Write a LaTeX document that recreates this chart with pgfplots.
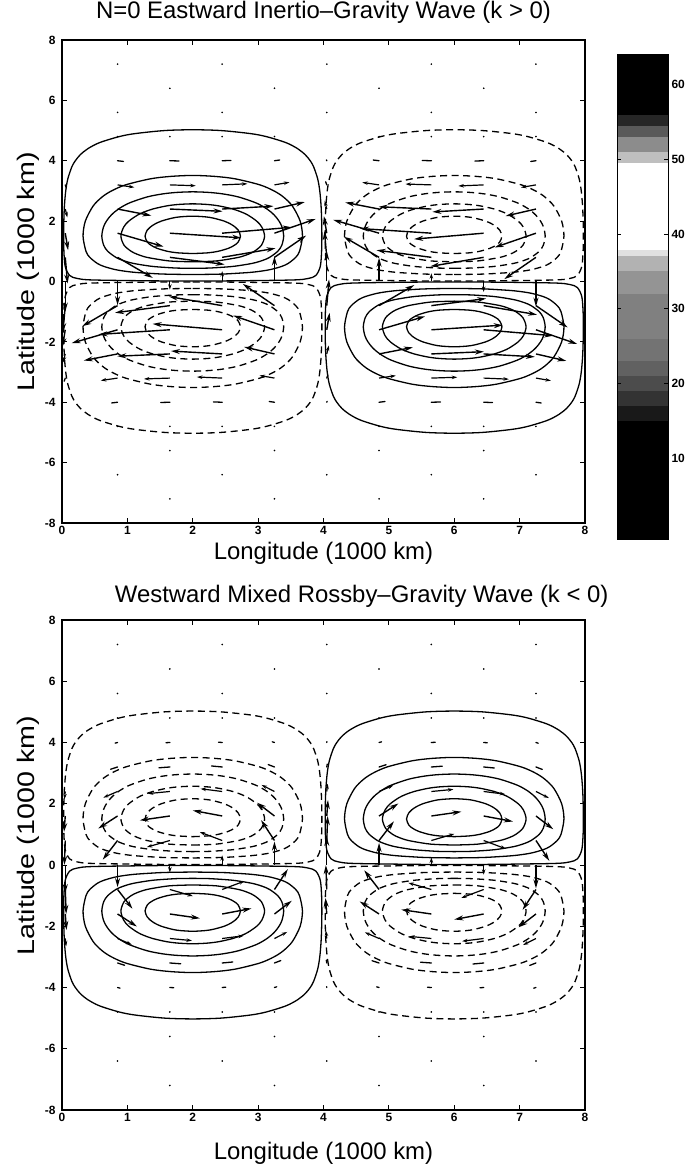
\documentclass[border=0pt]{standalone}
\usepackage{pgfplots}
\pgfplotsset{compat=1.18}
\usepackage{pgfplotstable}
\usetikzlibrary{arrows.meta}
\usepackage{fontspec}
\setmainfont{Liberation Sans}

% contour levels of the cell x in [0,4], y>0 ; xp = x+4 ; yn = -y
\pgfplotstableread{
x y xp yn
2.000 0.018 6.000 -0.018
2.547 0.020 6.547 -0.020
3.526 0.050 7.526 -0.050
3.767 0.100 7.767 -0.100
3.883 0.200 7.883 -0.200
3.951 0.500 7.951 -0.500
3.971 1.000 7.971 -1.000
3.975 1.500 7.975 -1.500
3.972 2.000 7.972 -2.000
3.963 2.500 7.963 -2.500
3.943 3.000 7.943 -3.000
3.911 3.400 7.911 -3.400
3.849 3.800 7.849 -3.800
3.797 4.000 7.797 -4.000
3.720 4.200 7.720 -4.200
3.604 4.400 7.604 -4.400
3.425 4.600 7.425 -4.600
3.124 4.800 7.124 -4.800
2.879 4.900 6.879 -4.900
2.429 5.000 6.429 -5.000
2.000 5.026 6.000 -5.026
1.571 5.000 5.571 -5.000
1.121 4.900 5.121 -4.900
0.876 4.800 4.876 -4.800
0.575 4.600 4.575 -4.600
0.396 4.400 4.396 -4.400
0.280 4.200 4.280 -4.200
0.204 4.000 4.204 -4.000
0.151 3.800 4.151 -3.800
0.089 3.400 4.089 -3.400
0.057 3.000 4.057 -3.000
0.037 2.500 4.037 -2.500
0.028 2.000 4.028 -2.000
0.026 1.500 4.026 -1.500
0.029 1.000 4.029 -1.000
0.049 0.500 4.049 -0.500
0.117 0.200 4.117 -0.200
0.233 0.100 4.233 -0.100
0.474 0.050 4.474 -0.050
1.453 0.020 5.453 -0.020
2.000 0.018 6.000 -0.018
}\cone

\pgfplotstableread{
x y xp yn
2.000 0.230 6.000 -0.230
2.361 0.240 6.361 -0.240
2.505 0.250 6.505 -0.250
2.872 0.300 6.872 -0.300
3.069 0.350 7.069 -0.350
3.198 0.400 7.198 -0.400
3.361 0.500 7.361 -0.500
3.461 0.600 7.461 -0.600
3.575 0.800 7.575 -0.800
3.633 1.000 7.633 -1.000
3.678 1.500 7.678 -1.500
3.643 2.000 7.643 -2.000
3.524 2.500 7.524 -2.500
3.386 2.800 7.386 -2.800
3.243 3.000 7.243 -3.000
3.028 3.200 7.028 -3.200
2.650 3.400 6.650 -3.400
2.343 3.480 6.343 -3.480
2.000 3.513 6.000 -3.513
1.657 3.480 5.657 -3.480
1.350 3.400 5.350 -3.400
0.972 3.200 4.972 -3.200
0.757 3.000 4.757 -3.000
0.614 2.800 4.614 -2.800
0.476 2.500 4.476 -2.500
0.357 2.000 4.357 -2.000
0.322 1.500 4.322 -1.500
0.367 1.000 4.367 -1.000
0.425 0.800 4.425 -0.800
0.539 0.600 4.539 -0.600
0.639 0.500 4.639 -0.500
0.802 0.400 4.802 -0.400
0.931 0.350 4.931 -0.350
1.128 0.300 5.128 -0.300
1.495 0.250 5.495 -0.250
1.639 0.240 5.639 -0.240
2.000 0.230 6.000 -0.230
}\ctwo

\pgfplotstableread{
x y xp yn
2.000 0.437 6.000 -0.437
2.152 0.440 6.152 -0.440
2.298 0.450 6.298 -0.450
2.617 0.500 6.617 -0.500
2.910 0.600 6.910 -0.600
3.071 0.700 7.071 -0.700
3.176 0.800 7.176 -0.800
3.300 1.000 7.300 -1.000
3.362 1.200 7.362 -1.200
3.391 1.500 7.391 -1.500
3.366 1.800 7.366 -1.800
3.320 2.000 7.320 -2.000
3.247 2.200 7.247 -2.200
3.137 2.400 7.137 -2.400
2.971 2.600 6.971 -2.600
2.699 2.800 6.699 -2.800
2.463 2.900 6.463 -2.900
2.249 2.950 6.249 -2.950
2.000 2.970 6.000 -2.970
1.751 2.950 5.751 -2.950
1.537 2.900 5.537 -2.900
1.301 2.800 5.301 -2.800
1.029 2.600 5.029 -2.600
0.863 2.400 4.863 -2.400
0.753 2.200 4.753 -2.200
0.680 2.000 4.680 -2.000
0.634 1.800 4.634 -1.800
0.609 1.500 4.609 -1.500
0.638 1.200 4.638 -1.200
0.700 1.000 4.700 -1.000
0.824 0.800 4.824 -0.800
0.929 0.700 4.929 -0.700
1.090 0.600 5.090 -0.600
1.383 0.500 5.383 -0.500
1.702 0.450 5.702 -0.450
1.848 0.440 5.848 -0.440
2.000 0.437 6.000 -0.437
}\cthree

\pgfplotstableread{
x y xp yn
2.000 0.651 6.000 -0.651
2.284 0.670 6.284 -0.670
2.434 0.700 6.434 -0.700
2.702 0.800 6.702 -0.800
2.847 0.900 6.847 -0.900
2.942 1.000 6.942 -1.000
3.050 1.200 7.050 -1.200
3.099 1.500 7.099 -1.500
3.057 1.800 7.057 -1.800
2.978 2.000 6.978 -2.000
2.844 2.200 6.844 -2.200
2.746 2.300 6.746 -2.300
2.613 2.400 6.613 -2.400
2.409 2.500 6.409 -2.500
2.230 2.550 6.230 -2.550
2.000 2.572 6.000 -2.572
1.770 2.550 5.770 -2.550
1.591 2.500 5.591 -2.500
1.387 2.400 5.387 -2.400
1.254 2.300 5.254 -2.300
1.156 2.200 5.156 -2.200
1.022 2.000 5.022 -2.000
0.943 1.800 4.943 -1.800
0.901 1.500 4.901 -1.500
0.950 1.200 4.950 -1.200
1.058 1.000 5.058 -1.000
1.153 0.900 5.153 -0.900
1.298 0.800 5.298 -0.800
1.566 0.700 5.566 -0.700
1.716 0.670 5.716 -0.670
2.000 0.651 6.000 -0.651
}\cfour

\pgfplotstableread{
x y xp yn
2.000 0.925 6.000 -0.925
2.234 0.950 6.234 -0.950
2.388 1.000 6.388 -1.000
2.547 1.100 6.547 -1.100
2.637 1.200 6.637 -1.200
2.693 1.300 6.693 -1.300
2.730 1.500 6.730 -1.500
2.696 1.700 6.696 -1.700
2.650 1.800 6.650 -1.800
2.582 1.900 6.582 -1.900
2.481 2.000 6.481 -2.000
2.314 2.100 6.314 -2.100
2.198 2.140 6.198 -2.140
2.000 2.164 6.000 -2.164
1.802 2.140 5.802 -2.140
1.686 2.100 5.686 -2.100
1.519 2.000 5.519 -2.000
1.418 1.900 5.418 -1.900
1.350 1.800 5.350 -1.800
1.304 1.700 5.304 -1.700
1.270 1.500 5.270 -1.500
1.307 1.300 5.307 -1.300
1.363 1.200 5.363 -1.200
1.453 1.100 5.453 -1.100
1.612 1.000 5.612 -1.000
1.766 0.950 5.766 -0.950
2.000 0.925 6.000 -0.925
}\cfive

% ---------- top panel velocity vectors ----------
\pgfplotstableread{
x y u v
0.05 0 0 -0.999
0.85 0 0 -0.785
3.25 0 0 0.832
4.05 0 0 0.999
4.85 0 0 0.785
7.25 0 0 -0.832
0.05 0.8 0.035 -0.867
0.85 0.8 0.539 -0.681
1.65 0.8 0.838 -0.235
2.45 0.8 0.816 0.300
3.25 0.8 0.484 0.721
4.05 0.8 -0.035 0.867
4.85 0.8 -0.539 0.681
5.65 0.8 -0.838 0.235
6.45 0.8 -0.816 -0.300
7.25 0.8 -0.484 -0.721
0.05 -0.8 -0.035 -0.867
0.85 -0.8 -0.539 -0.681
1.65 -0.8 -0.838 -0.235
2.45 -0.8 -0.816 0.300
3.25 -0.8 -0.484 0.721
4.05 -0.8 0.035 0.867
4.85 -0.8 0.539 0.681
5.65 -0.8 0.838 0.235
6.45 -0.8 0.816 -0.300
7.25 -0.8 0.484 -0.721
0.05 1.6 0.044 -0.565
0.85 1.6 0.703 -0.444
1.65 1.6 1.092 -0.154
2.45 1.6 1.064 0.196
3.25 1.6 0.631 0.471
4.05 1.6 -0.044 0.565
4.85 1.6 -0.703 0.444
5.65 1.6 -1.092 0.154
6.45 1.6 -1.064 -0.196
7.25 1.6 -0.631 -0.471
0.05 -1.6 -0.044 -0.565
0.85 -1.6 -0.703 -0.444
1.65 -1.6 -1.092 -0.154
2.45 -1.6 -1.064 0.196
3.25 -1.6 -0.631 0.471
4.05 -1.6 0.044 0.565
4.85 -1.6 0.703 0.444
5.65 -1.6 1.092 0.154
6.45 -1.6 1.064 -0.196
7.25 -1.6 0.631 -0.471
0.85 2.4 0.517 -0.218
1.65 2.4 0.805 -0.075
2.45 2.4 0.784 0.096
3.25 2.4 0.464 0.231
4.85 2.4 -0.517 0.218
5.65 2.4 -0.805 0.075
6.45 2.4 -0.784 -0.096
7.25 2.4 -0.464 -0.231
0.85 -2.4 -0.517 -0.218
1.65 -2.4 -0.805 -0.075
2.45 -2.4 -0.784 0.096
3.25 -2.4 -0.464 0.231
4.85 -2.4 0.517 0.218
5.65 -2.4 0.805 0.075
6.45 -2.4 0.784 -0.096
7.25 -2.4 0.464 -0.231
}\qtB

\pgfplotstableread{
x y u v
1.65 0 0 -0.271
2.45 0 0 0.346
5.65 0 0 0.271
6.45 0 0 -0.346
0.05 2.4 0.032 -0.278
4.05 2.4 -0.032 0.278
0.05 -2.4 -0.032 -0.278
4.05 -2.4 0.032 0.278
0.85 3.2 0.256 -0.081
1.65 3.2 0.396 -0.028
2.45 3.2 0.386 0.036
3.25 3.2 0.229 0.086
4.85 3.2 -0.256 0.081
5.65 3.2 -0.396 0.028
6.45 3.2 -0.386 -0.036
7.25 3.2 -0.229 -0.086
0.85 -3.2 -0.256 -0.081
1.65 -3.2 -0.396 -0.028
2.45 -3.2 -0.386 0.036
3.25 -3.2 -0.229 0.086
4.85 -3.2 0.256 0.081
5.65 -3.2 0.396 0.028
6.45 -3.2 0.386 -0.036
7.25 -3.2 0.229 -0.086
}\qtM

\pgfplotstableread{
x y u v
0.05 3.2 0.017 -0.103
4.05 3.2 -0.017 0.103
0.05 -3.2 -0.017 -0.103
4.05 -3.2 0.017 0.103
0.85 4 0.089 -0.023
1.65 4 0.138 -0.008
2.45 4 0.134 0.010
3.25 4 0.079 0.024
4.05 4 -0.006 0.029
4.85 4 -0.089 0.023
5.65 4 -0.138 0.008
6.45 4 -0.134 -0.010
7.25 4 -0.079 -0.024
0.85 -4 -0.089 -0.023
1.65 -4 -0.138 -0.008
2.45 -4 -0.134 0.010
3.25 -4 -0.079 0.024
4.05 -4 0.006 0.029
4.85 -4 0.089 0.023
5.65 -4 0.138 0.008
6.45 -4 0.134 -0.010
7.25 -4 0.079 -0.024
}\qtS

% ---------- bottom panel velocity vectors ----------
\pgfplotstableread{
x y u v
0.05 0 0 -0.919
0.85 0 0 -0.722
3.25 0 0 0.765
4.05 0 0 0.919
4.85 0 0 0.722
7.25 0 0 -0.765
0.05 0.8 -0.014 -0.797
0.85 0.8 -0.227 -0.627
3.25 0.8 -0.204 0.664
4.05 0.8 0.014 0.797
4.85 0.8 0.227 0.627
7.25 0.8 0.204 -0.664
0.05 -0.8 0.014 -0.797
0.85 -0.8 0.227 -0.627
3.25 -0.8 0.204 0.664
4.05 -0.8 -0.014 0.797
4.85 -0.8 -0.227 0.627
7.25 -0.8 -0.204 -0.664
0.05 1.6 -0.019 -0.520
0.85 1.6 -0.296 -0.409
3.25 1.6 -0.265 0.433
4.05 1.6 0.019 0.520
4.85 1.6 0.296 0.409
7.25 1.6 0.265 -0.433
0.05 -1.6 0.019 -0.520
0.85 -1.6 0.296 -0.409
3.25 -1.6 0.265 0.433
4.05 -1.6 -0.019 0.520
4.85 -1.6 -0.296 0.409
7.25 -1.6 -0.265 -0.433
1.65 1.6 -0.460 -0.141
2.45 1.6 -0.449 0.180
5.65 1.6 0.460 0.141
6.45 1.6 0.449 -0.180
1.65 -1.6 0.460 -0.141
2.45 -1.6 0.449 0.180
5.65 -1.6 -0.460 0.141
6.45 -1.6 -0.449 -0.180
}\qbB

\pgfplotstableread{
x y u v
1.65 0 0 -0.249
2.45 0 0 0.318
5.65 0 0 0.249
6.45 0 0 -0.318
1.65 0.8 -0.353 -0.217
2.45 0.8 -0.343 0.276
5.65 0.8 0.353 0.217
6.45 0.8 0.343 -0.276
1.65 -0.8 0.353 -0.217
2.45 -0.8 0.343 0.276
5.65 -0.8 -0.353 0.217
6.45 -0.8 -0.343 -0.276
0.05 2.4 -0.014 -0.256
0.85 2.4 -0.218 -0.201
1.65 2.4 -0.338 -0.069
2.45 2.4 -0.330 0.089
3.25 2.4 -0.196 0.213
4.05 2.4 0.014 0.256
4.85 2.4 0.218 0.201
5.65 2.4 0.338 0.069
6.45 2.4 0.330 -0.089
7.25 2.4 0.196 -0.213
0.05 -2.4 0.014 -0.256
0.85 -2.4 0.218 -0.201
1.65 -2.4 0.338 -0.069
2.45 -2.4 0.330 0.089
3.25 -2.4 0.196 0.213
4.05 -2.4 -0.014 0.256
4.85 -2.4 -0.218 0.201
5.65 -2.4 -0.338 0.069
6.45 -2.4 -0.330 -0.089
7.25 -2.4 -0.196 -0.213
}\qbM

\pgfplotstableread{
x y u v
0.85 3.2 -0.107 -0.074
1.65 3.2 -0.167 -0.026
2.45 3.2 -0.163 0.033
3.25 3.2 -0.096 0.079
4.05 3.2 0.007 0.094
4.85 3.2 0.107 0.074
5.65 3.2 0.167 0.026
6.45 3.2 0.163 -0.033
7.25 3.2 0.096 -0.079
0.85 -3.2 0.107 -0.074
1.65 -3.2 0.167 -0.026
2.45 -3.2 0.163 0.033
3.25 -3.2 0.096 0.079
4.05 -3.2 -0.007 0.094
4.85 -3.2 -0.107 0.074
5.65 -3.2 -0.167 0.026
6.45 -3.2 -0.163 -0.033
7.25 -3.2 -0.096 -0.079
0.85 4 -0.037 -0.021
1.65 4 -0.058 -0.007
2.45 4 -0.056 0.009
3.25 4 -0.034 0.022
4.05 4 0.002 0.026
4.85 4 0.037 0.021
5.65 4 0.058 0.007
6.45 4 0.056 -0.009
7.25 4 0.034 -0.022
0.85 -4 0.037 -0.021
1.65 -4 0.058 -0.007
2.45 -4 0.056 0.009
3.25 -4 0.034 0.022
4.05 -4 -0.002 0.026
4.85 -4 -0.037 0.021
5.65 -4 -0.058 0.007
6.45 -4 -0.056 -0.009
7.25 -4 -0.034 -0.022
}\qbS

% far-field grid points (vanishing vectors)
\pgfplotstableread{
x y
0.85 4.8
1.65 4.8
2.45 4.8
3.25 4.8
4.85 4.8
5.65 4.8
6.45 4.8
7.25 4.8
0.85 5.6
2.45 5.6
4.05 5.6
5.65 5.6
7.25 5.6
1.65 6.4
3.25 6.4
4.85 6.4
6.45 6.4
0.85 7.2
2.45 7.2
4.05 7.2
5.65 7.2
7.25 7.2
0.85 -4.8
1.65 -4.8
2.45 -4.8
3.25 -4.8
4.85 -4.8
5.65 -4.8
6.45 -4.8
7.25 -4.8
1.65 -5.6
3.25 -5.6
4.85 -5.6
6.45 -5.6
0.85 -6.4
2.45 -6.4
4.05 -6.4
5.65 -6.4
7.25 -6.4
1.65 -7.2
3.25 -7.2
4.85 -7.2
6.45 -7.2
}\gdots

\pgfplotsset{
  wave/.style={
    scale only axis, width=523bp,
    anchor=south west,
    xmin=0, xmax=8, ymin=-8, ymax=8,
    xtick={0,1,2,3,4,5,6,7,8},
    xticklabels={0,1,2,3,4,5,6,7,8},
    ytick={-8,-6,-4,-2,0,2,4,6,8},
    yticklabels={-8,-6,-4,-2,0,2,4,6,8},
    tick align=inside, major tick length=5bp,
    tick style={line width=0.8bp, black},
    axis line style={line width=1.3bp},
    ticklabel style={font=\bfseries\fontsize{12}{12}\selectfont},
    yticklabel style={xshift=-3bp},
    label style={font=\fontsize{24}{24}\selectfont},
    title style={font=\fontsize{24}{24}\selectfont, inner sep=0pt},
    xlabel={Longitude (1000 km)},
    ylabel={Latitude (1000 km)},
  },
  sol/.style={black, line width=1.3bp, smooth, tension=0.5},
  das/.style={black, line width=1.3bp, smooth, tension=0.5, dash pattern=on 7bp off 4.5bp},
  qB/.style={black, line width=1.4bp, quiver={u=\thisrow{u}, v=\thisrow{v}}, -{Stealth[length=9bp,width=5bp]}},
  qM/.style={black, line width=1.2bp, quiver={u=\thisrow{u}, v=\thisrow{v}}, -{Stealth[length=5.5bp,width=3.5bp]}},
  qS/.style={black, line width=1.3bp, line cap=round, quiver={u=\thisrow{u}, v=\thisrow{v}}},
  gd/.style={black, only marks, mark=*, mark size=0.6bp},
  band/.style={draw=none, fill=#1},
}

\begin{document}
\begin{tikzpicture}
\useasboundingbox (0,0) rectangle (690bp,1170bp);

% ================= top panel =================
\begin{axis}[wave,
  at={(62bp,647bp)}, height=483bp,
  title={N=0 Eastward Inertio--Gravity Wave (k > 0)},
  title style={at={(axis description cs:0.5,1.0207)}, anchor=south},
  xlabel style={at={(axis description cs:0.5,-0.0766)}, anchor=base},
  ylabel style={at={(axis description cs:-0.0535,0.52)}, anchor=base, xscale=1.2},
]
% TL (positive, solid)
\addplot[sol] table[x=x,y=y]{\cone};
\addplot[sol] table[x=x,y=y]{\ctwo};
\addplot[sol] table[x=x,y=y]{\cthree};
\addplot[sol] table[x=x,y=y]{\cfour};
\addplot[sol] table[x=x,y=y]{\cfive};
% TR (negative, dashed)
\addplot[das] table[x=xp,y=y]{\cone};
\addplot[das] table[x=xp,y=y]{\ctwo};
\addplot[das] table[x=xp,y=y]{\cthree};
\addplot[das] table[x=xp,y=y]{\cfour};
\addplot[das] table[x=xp,y=y]{\cfive};
% BL (negative, dashed)
\addplot[das] table[x=x,y=yn]{\cone};
\addplot[das] table[x=x,y=yn]{\ctwo};
\addplot[das] table[x=x,y=yn]{\cthree};
\addplot[das] table[x=x,y=yn]{\cfour};
\addplot[das] table[x=x,y=yn]{\cfive};
% BR (positive, solid)
\addplot[sol] table[x=xp,y=yn]{\cone};
\addplot[sol] table[x=xp,y=yn]{\ctwo};
\addplot[sol] table[x=xp,y=yn]{\cthree};
\addplot[sol] table[x=xp,y=yn]{\cfour};
\addplot[sol] table[x=xp,y=yn]{\cfive};
% vectors
\addplot[qB] table{\qtB};
\addplot[qM] table{\qtM};
\addplot[qS] table{\qtS};
\addplot[gd] table{\gdots};
\end{axis}

% ================= colour bar =================
\begin{axis}[
  at={(617bp,630bp)}, anchor=south west,
  scale only axis, width=51bp, height=485bp,
  xmin=0, xmax=1, ymin=-1, ymax=64,
  xtick=\empty,
  ytick={10,20,30,40,50,60},
  yticklabels={10,20,30,40,50,60},
  yticklabel pos=right,
  yticklabel style={font=\bfseries\fontsize{12}{12}\selectfont},
  tick align=inside, major tick length=4bp,
  tick style={black, line width=0.8bp},
  axis line style={line width=1bp},
  axis on top,
]
\addplot[band=black] coordinates {(0,-1) (1,-1) (1,15) (0,15)} -- cycle;
\addplot[band=black!90] coordinates {(0,15) (1,15) (1,17) (0,17)} -- cycle;
\addplot[band=black!80] coordinates {(0,17) (1,17) (1,19) (0,19)} -- cycle;
\addplot[band=black!70] coordinates {(0,19) (1,19) (1,21) (0,21)} -- cycle;
\addplot[band=black!62] coordinates {(0,21) (1,21) (1,23) (0,23)} -- cycle;
\addplot[band=black!55] coordinates {(0,23) (1,23) (1,26) (0,26)} -- cycle;
\addplot[band=black!50] coordinates {(0,26) (1,26) (1,32) (0,32)} -- cycle;
\addplot[band=black!42] coordinates {(0,32) (1,32) (1,35) (0,35)} -- cycle;
\addplot[band=black!30] coordinates {(0,35) (1,35) (1,37) (0,37)} -- cycle;
\addplot[band=black!12] coordinates {(0,37) (1,37) (1,37.8) (0,37.8)} -- cycle;
\addplot[band=black!25] coordinates {(0,49.5) (1,49.5) (1,51) (0,51)} -- cycle;
\addplot[band=black!45] coordinates {(0,51) (1,51) (1,53) (0,53)} -- cycle;
\addplot[band=black!65] coordinates {(0,53) (1,53) (1,54.5) (0,54.5)} -- cycle;
\addplot[band=black!85] coordinates {(0,54.5) (1,54.5) (1,56) (0,56)} -- cycle;
\addplot[band=black] coordinates {(0,56) (1,56) (1,64) (0,64)} -- cycle;
\end{axis}

% ================= bottom panel =================
\begin{axis}[wave,
  at={(62bp,60bp)}, height=490bp,
  title={Westward Mixed Rossby--Gravity Wave (k < 0)},
  title style={at={(axis description cs:0.573,1.0122)}, anchor=south},
  xlabel style={at={(axis description cs:0.5,-0.1)}, anchor=base},
  ylabel style={at={(axis description cs:-0.0535,0.56)}, anchor=base, xscale=1.2},
]
% TL (negative, dashed)
\addplot[das] table[x=x,y=y]{\cone};
\addplot[das] table[x=x,y=y]{\ctwo};
\addplot[das] table[x=x,y=y]{\cthree};
\addplot[das] table[x=x,y=y]{\cfour};
\addplot[das] table[x=x,y=y]{\cfive};
% TR (positive, solid)
\addplot[sol] table[x=xp,y=y]{\cone};
\addplot[sol] table[x=xp,y=y]{\ctwo};
\addplot[sol] table[x=xp,y=y]{\cthree};
\addplot[sol] table[x=xp,y=y]{\cfour};
\addplot[sol] table[x=xp,y=y]{\cfive};
% BL (positive, solid)
\addplot[sol] table[x=x,y=yn]{\cone};
\addplot[sol] table[x=x,y=yn]{\ctwo};
\addplot[sol] table[x=x,y=yn]{\cthree};
\addplot[sol] table[x=x,y=yn]{\cfour};
\addplot[sol] table[x=x,y=yn]{\cfive};
% BR (negative, dashed)
\addplot[das] table[x=xp,y=yn]{\cone};
\addplot[das] table[x=xp,y=yn]{\ctwo};
\addplot[das] table[x=xp,y=yn]{\cthree};
\addplot[das] table[x=xp,y=yn]{\cfour};
\addplot[das] table[x=xp,y=yn]{\cfive};
% vectors
\addplot[qB] table{\qbB};
\addplot[qM] table{\qbM};
\addplot[qS] table{\qbS};
\addplot[gd] table{\gdots};
\end{axis}
\end{tikzpicture}
\end{document}
